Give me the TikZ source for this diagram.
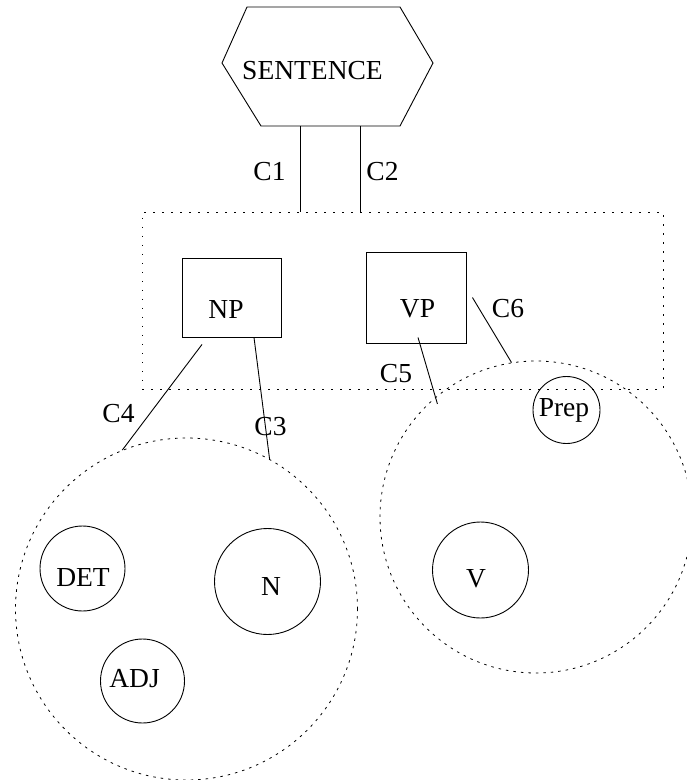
\documentclass[tikz,border=0pt]{standalone}
\usepackage{fontspec}
\setmainfont{Liberation Serif}

\begin{document}
\begin{tikzpicture}[x=1pt,y=-1pt,line width=0.9pt,
    every node/.style={font=\fontsize{27.5}{33}\selectfont,inner sep=0pt},
    phrase/.style={draw,rectangle},
    cat/.style={draw,circle},
    group/.style={draw,circle,line width=0.8pt,dash pattern=on 2.5pt off 5pt},
    frame/.style={draw,rectangle,line width=1pt,dash pattern=on 1.5pt off 7.5pt}]
        \useasboundingbox (0,0) rectangle (687,780);
        % sentence hexagon
        \coordinate (s-nw) at (247,7);
        \coordinate (s-ne) at (400,7);
        \coordinate (s-e)  at (433,63);
        \coordinate (s-se) at (400,126);
        \coordinate (s-sw) at (261,126);
        \coordinate (s-w)  at (222,63);
        \draw (s-nw) -- (s-ne) -- (s-e) -- (s-se) -- (s-sw) -- (s-w) -- cycle;
        \node (sent) at (312.5,70.5) {SENTENCE};
        % dotted frame round the phrases
        \node[frame,minimum width=520.6pt,minimum height=177pt] (phrases) at (402.7,300.5) {};
        \coordinate (c1-top) at (300.7,126);
        \coordinate (c2-top) at (360,126);
        \draw (c1-top) -- (c1-top |- phrases.north);
        \draw (c2-top) -- (c2-top |- phrases.north);
        \node (c1) at (269.5,171.5) {C1};
        \node (c2) at (382.5,171.5) {C2};
        % phrase boxes
        \node[phrase,minimum width=99pt,minimum height=79pt] (np) at (231.5,297.5) {};
        \node (np-txt) at (226,309) {NP};
        \node[phrase,minimum width=100pt,minimum height=91pt] (vp) at (416,297.5) {};
        \node (vp-txt) at (417.5,309) {VP};
        % word groups
        \node[group,minimum size=342pt] (nouns) at (186.5,609) {};
        \node[group,minimum size=312pt] (verbs) at (536,517) {};
        \node[cat,minimum size=85pt] (det) at (82.5,568.5) {};
        \node (det-txt) at (83,578) {DET};
        \node[cat,minimum size=106pt] (n) at (267.5,581.5) {};
        \node (n-txt) at (271,586) {N};
        \node[cat,minimum size=84pt] (adj) at (142.5,681) {};
        \node (adj-txt) at (134.5,678.5) {ADJ};
        \node[cat,minimum size=67pt] (prep) at (566.5,410) {};
        \node (prep-txt) at (564,410) {Prep};
        \node[cat,minimum size=96pt] (v) at (480.5,570) {};
        \node (v-txt) at (476,578.5) {V};
        % connectors C3 - C6
        \draw ([xshift=22.5pt]np.south) -- (nouns.61);
        \draw ([xshift=-29.5pt,yshift=-7pt]np.south) -- (nouns.112);
        \draw[shorten >=-7pt] ([xshift=2pt,yshift=6pt]vp.south) -- (verbs.130);
        \draw ([xshift=6pt]vp.east) -- (verbs.99);
        \node (c3) at (270.5,427) {C3};
        \node (c4) at (118.5,414) {C4};
        \node (c5) at (396,374) {C5};
        \node (c6) at (508,309) {C6};
      \end{tikzpicture}
\end{document}
